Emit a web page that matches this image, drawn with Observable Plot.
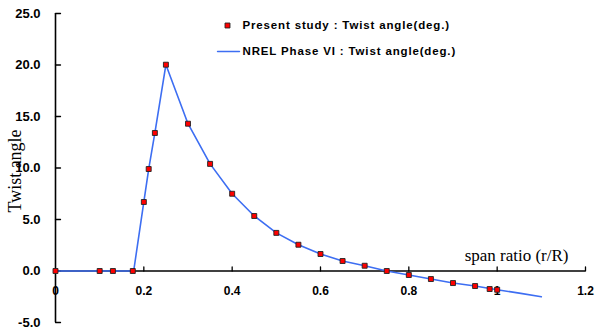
<!DOCTYPE html>
<html>
<head>
<meta charset="utf-8">
<script src="https://cdn.jsdelivr.net/npm/d3@7"></script>
<script src="https://cdn.jsdelivr.net/npm/@observablehq/plot@0.6"></script>
<style>
  html, body { margin: 0; padding: 0; background: #fff; }
  #chart svg { display: block; }
</style>
</head>
<body>
<div id="chart"></div>
<script>
// Present study: twist angle (deg.) vs span ratio r/R
const studyX = [0, 0.1, 0.13, 0.175, 0.2, 0.211, 0.225, 0.25, 0.3, 0.35, 0.4, 0.45, 0.5, 0.55, 0.6, 0.65, 0.7, 0.75, 0.8, 0.85, 0.9, 0.95, 0.983, 1.0];
const studyY = [0, 0, 0, 0, 6.7, 9.9, 13.4, 20.03, 14.3, 10.4, 7.5, 5.34, 3.7, 2.55, 1.65, 0.97, 0.51, 0.0, -0.39, -0.78, -1.17, -1.46, -1.75, -1.82];
// NREL Phase VI: twist angle (deg.)
const nrelX = [0, 0.177, 0.2, 0.211, 0.225, 0.25, 0.3, 0.35, 0.4, 0.45, 0.5, 0.55, 0.6, 0.65, 0.7, 0.75, 0.8, 0.85, 0.9, 0.95, 1.0, 1.05, 1.1];
const nrelY = [0, 0, 6.7, 9.9, 13.4, 20.03, 14.3, 10.4, 7.5, 5.34, 3.7, 2.55, 1.65, 0.97, 0.51, 0.0, -0.39, -0.78, -1.17, -1.46, -1.82, -2.15, -2.5];
const xTicks = [0, 0.2, 0.4, 0.6, 0.8, 1.0, 1.2];
const yTicks = [-5, 0, 5, 10, 15, 20, 25];
const legendLabels = ["Present study : Twist angle(deg.)", "NREL Phase VI : Twist angle(deg.)"];
const xTitle = "span ratio (r/R)";
const yTitle = "Twist angle";

const study = studyX.map((x, i) => ({x, y: studyY[i]}));
const nrel = nrelX.map((x, i) => ({x, y: nrelY[i]}));

const blue = "#3d6ef2";
const red = "#ff0000";
const sans = "'Liberation Sans', Arial, sans-serif";
const serif = "'Liberation Serif', 'Times New Roman', serif";
const stem = {draw(ctx, l) { ctx.moveTo(0, 0); ctx.lineTo(0, -l); }};

const chart = Plot.plot({
  width: 595,
  height: 331,
  marginLeft: 55,
  marginRight: 10,
  marginTop: 13,
  marginBottom: 9,
  style: {background: "#fff", color: "#000"},
  x: {domain: [0, 1.2], axis: null},
  y: {domain: [-5, 25], axis: null},
  marks: [
    // y axis line and inward ticks
    Plot.ruleX([0], {y1: -5, y2: 25, stroke: "#000", strokeWidth: 1.6}),
    Plot.vector(yTicks, {x: 0, y: d => d, length: 5, rotate: 90, anchor: "start", stroke: "#000", strokeWidth: 1.3, shape: stem}),
    Plot.axisY(yTicks, {label: null, tickSize: 0, tickPadding: 15, tickFormat: d => d.toFixed(1), fontSize: 13, fontWeight: "bold", fontFamily: sans, fill: "#000"}),
    // x axis line and ticks at y = 0
    Plot.ruleY([0], {x1: 0, x2: 1.2, stroke: "#000", strokeWidth: 1.6}),
    Plot.vector(xTicks.slice(1), {x: d => d, y: 0, length: 4, rotate: 0, anchor: "start", stroke: "#000", strokeWidth: 1.3, shape: stem}),
    Plot.text(xTicks, {x: d => d, y: 0, dy: 20, text: d => d3.format("")(d), fontSize: 12, fontWeight: "bold", fontFamily: sans, fill: "#000"}),
    // axis titles
    Plot.text([xTitle], {x: 1.2, y: 0, dx: -17, dy: -10, text: d => d, textAnchor: "end", lineAnchor: "bottom", fontSize: 17, fontFamily: serif, fill: "#000"}),
    Plot.text([yTitle], {frameAnchor: "left", dx: -40, dy: 3, rotate: -90, text: d => d, textAnchor: "middle", lineAnchor: "middle", fontSize: 18, fontFamily: serif, fill: "#000"}),
    // data
    Plot.line(nrel, {x: "x", y: "y", stroke: blue, strokeWidth: 1.6}),
    Plot.dot(study, {x: "x", y: "y", symbol: "square", r: 2.8, fill: red, stroke: "#222", strokeWidth: 0.9}),
    // legend
    Plot.dot([legendLabels[0]], {frameAnchor: "top-left", dx: 172, dy: 12, symbol: "square", r: 2.8, fill: red, stroke: "#222", strokeWidth: 0.9}),
    Plot.vector([legendLabels[1]], {frameAnchor: "top-left", dx: 162, dy: 38, length: 22, rotate: 90, anchor: "start", stroke: blue, strokeWidth: 1.4, shape: stem}),
    Plot.text([legendLabels[0]], {frameAnchor: "top-left", dx: 187, dy: 12, text: d => d, textAnchor: "start", lineAnchor: "middle", fontSize: 11.5, fontWeight: "bold", fontFamily: sans, fill: "#000"}),
    Plot.text([legendLabels[1]], {frameAnchor: "top-left", dx: 187, dy: 38, text: d => d, textAnchor: "start", lineAnchor: "middle", fontSize: 11.5, fontWeight: "bold", fontFamily: sans, fill: "#000"})
  ]
});
d3.select(chart).selectAll("text")
  .filter(function() { return legendLabels.includes(this.textContent); })
  .attr("letter-spacing", "0.85");
document.getElementById("chart").appendChild(chart);
</script>
</body>
</html>
